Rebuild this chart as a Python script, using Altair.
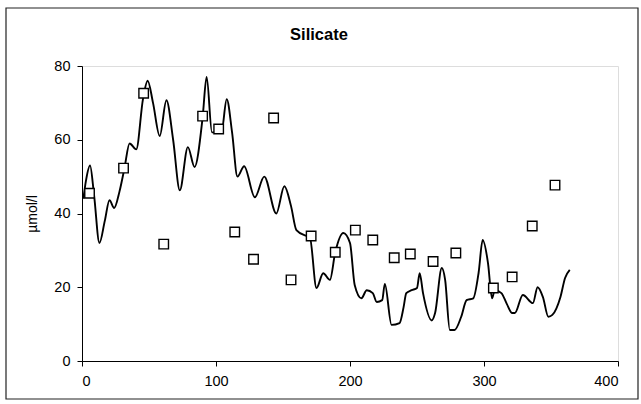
import altair as alt
import pandas as pd

# Continuous series (line)
line_x = [1, 3, 6, 9, 13, 17, 20.5, 24, 28, 31.7, 35.5, 40.5, 45.5, 49, 53, 58, 63, 68, 73, 79,
          84, 90, 93, 97, 104, 108, 112, 116, 121, 129, 136, 145, 151, 156, 160, 167, 170, 175,
          180, 185, 189, 195, 200, 203.5, 208.5, 212.5, 217, 220, 224, 226, 231, 237, 240, 242,
          246, 250, 252, 254.5, 261, 263.5, 268.5, 271, 274.5, 278, 283, 287, 292, 296, 299, 303,
          306, 308, 313, 317, 321, 323, 329, 336.5, 340, 344, 348, 351, 357, 360.5, 364]
line_y = [44, 49, 53, 45, 32, 38, 43.6, 41.5, 46, 52.3, 59, 57.4, 71, 76, 70, 61, 70.7, 60, 46.3, 58,
          52.6, 66, 77, 62, 62, 71, 62, 50, 52.8, 44.4, 50, 40, 47.4, 42, 35.5, 34, 33.6, 19.8,
          23.8, 22, 29.5, 34.7, 32, 20.6, 17, 19.2, 18.4, 16, 16.5, 20.9, 9.8, 10.3, 14.6, 18.4,
          19.2, 19.8, 23.8, 18.4, 11, 13, 25.2, 22, 8.4, 8.4, 12, 16.5, 17, 24, 32.8, 26.5,
          17, 19.2, 18.4, 15.5, 13, 13, 17.9, 15.7, 20, 17.3, 12, 12.5, 17.3, 22.5, 24.7]

# Discrete samples (squares)
pt_x = [5.6, 31, 46, 61, 90, 102, 114, 128, 143, 156, 171, 189, 204, 217, 233, 245, 262, 279,
        307, 321, 336, 353]
pt_y = [45.5, 52.3, 72.6, 31.7, 66.4, 62.9, 35, 27.6, 65.9, 22, 33.9, 29.5, 35.5, 32.8, 28, 29,
        27, 29.3, 19.8, 22.8, 36.6, 47.7]

x_ticks = [0, 100, 200, 300, 400]
y_ticks = [0, 20, 40, 60, 80]
title_text = "Silicate"
y_title = "µmol/l"

line_df = pd.DataFrame({"day": line_x, "val": line_y})
pt_df = pd.DataFrame({"day": pt_x, "val": pt_y})

FONT = "Liberation Sans"

xs = alt.Scale(domain=[0, 400], nice=False, zero=False)
ys = alt.Scale(domain=[0, 80], nice=False)

x_axis = alt.Axis(values=x_ticks, title=None, grid=False, tickSize=5, labelPadding=8,
                  domainColor="black", tickColor="black", labelColor="black",
                  labelFont=FONT, labelFontSize=14.5)
y_axis = alt.Axis(values=y_ticks, title=y_title, grid=False, tickSize=5, labelPadding=7,
                  domainColor="black", tickColor="black", labelColor="black",
                  labelFont=FONT, labelFontSize=14.5, titleFont=FONT, titleFontSize=14,
                  titleFontWeight="normal", titleColor="black", titlePadding=14)

line = alt.Chart(line_df).mark_line(color="black", strokeWidth=1.9, interpolate="monotone").encode(
    x=alt.X("day:Q", scale=xs, axis=x_axis),
    y=alt.Y("val:Q", scale=ys, axis=y_axis),
)

pts = alt.Chart(pt_df).mark_point(shape="square", size=90, filled=False, fill="white",
                                  fillOpacity=1, stroke="black", strokeWidth=1.4, opacity=1).encode(
    x=alt.X("day:Q", scale=xs),
    y=alt.Y("val:Q", scale=ys),
)

one = pd.DataFrame({"a": [0]})

frame = alt.Chart(one).mark_rect(fill="transparent", stroke="#222", strokeWidth=1.2).encode(
    x=alt.value(-76), x2=alt.value(556), y=alt.value(-58), y2=alt.value(333)
)

title = alt.Chart(one).mark_text(font=FONT, fontSize=16.5, fontWeight="bold", color="black",
                                 align="center", baseline="alphabetic").encode(
    x=alt.value(237), y=alt.value(-26), text=alt.value(title_text)
)

chart = alt.layer(frame, title, line, pts).properties(
    width=536, height=295,
    autosize=alt.AutoSizeParams(type="none"),
    padding={"left": 82, "top": 66, "right": 23, "bottom": 43},
).configure_view(stroke="#222", strokeWidth=1.2).configure(background="white")

chart.save("out.html", embed_options={"renderer": "svg", "actions": False})
